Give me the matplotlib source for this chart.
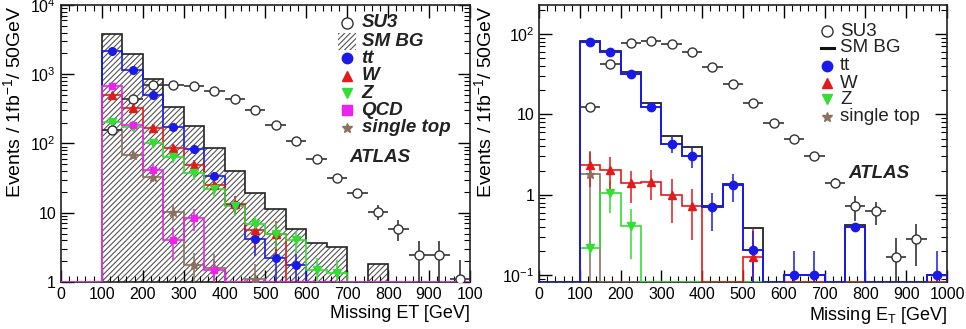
import matplotlib
matplotlib.use("Agg")
import matplotlib.pyplot as plt
import numpy as np
from matplotlib.ticker import MultipleLocator, LogLocator, NullFormatter
from matplotlib.patches import Rectangle

plt.rcParams['font.family'] = ['Liberation Sans', 'DejaVu Sans']
plt.rcParams['hatch.linewidth'] = 0.8
plt.rcParams['mathtext.fontset'] = 'custom'
plt.rcParams['mathtext.rm'] = 'Liberation Sans'

# 20 bins of 50 GeV from 0 to 1000
edges = np.arange(0, 1050, 50)
centers = edges[:-1] + 25

# ---- left panel (Missing ET, log 1..1e4) ----
sm_bg_l = [0, 0, 3770, 1940, 850, 340, 178, 85, 40, 19, 11.5, 5.9, 3.6, 3.2, 0, 1.84, 0, 0, 0, 0]
tt_l = [0, 0, 2180, 1170, 500, 175, 83, 34, 13, 4.2, 2.25, 1.78, 0, 0, 0, 0, 0, 0, 0, 0]
tt_err_l = [0, 0, 60, 40, 25, 14, 9, 5, 3, 1.8, 1.3, 0.8, 0, 0, 0, 0, 0, 0, 0, 0]
w_l = [0, 0, 500, 330, 170, 85, 49, 25, 13.3, 5.6, 5.0, 0, 0, 0, 0, 0, 0, 0, 0, 0]
w_err_l = [0, 0, 40, 30, 20, 13, 9, 6, 4, 2.5, 2.5, 0, 0, 0, 0, 0, 0, 0, 0, 0]
z_l = [0, 0, 205, 175, 100, 64, 38, 22, 12.4, 6.8, 5.0, 4.0, 1.5, 1.35, 0, 0, 0, 0, 0, 0]
z_err_l = [0, 0, 25, 22, 15, 11, 8, 5, 3.5, 2.3, 2.0, 1.5, 0.7, 0.7, 0, 0, 0, 0, 0, 0]
qcd_l = [0, 0, 670, 184, 41, 4.1, 8.5, 1.5, 0, 0, 0, 0, 0, 0, 0, 0, 0, 0, 0, 0]
qcd_err_l = [0, 0, 60, 30, 12, 2.0, 3.0, 0.5, 0, 0, 0, 0, 0, 0, 0, 0, 0, 0, 0, 0]
st_l = [0, 0, 155, 68, 33, 10.3, 1.74, 1.6, 0, 1.1, 0, 0, 0, 0, 0, 0, 0, 0, 0, 0]
st_err_l = [0, 0, 12, 8, 5, 3, 0.9, 0.9, 0, 0.7, 0, 0, 0, 0, 0, 0, 0, 0, 0, 0]
su3_l = [0, 0, 155, 437, 700, 700, 680, 580, 440, 305, 184, 108, 59, 32, 19.4, 10.3, 5.9, 2.43, 2.43, 1.1]
su3_err_l = [0, 0, 8, 14, 18, 18, 18, 17, 15, 12, 9, 7, 5, 3.5, 2.8, 2.5, 2.0, 1.5, 1.5, 0.95]

# ---- right panel (Missing E_T, log 0.1..1e2) ----
sm_bg_r = [0, 0, 82, 62, 34, 14, 5.4, 3.87, 0.72, 1.35, 0.38, 0, 0.1, 0.1, 0, 0.42, 0, 0, 0, 0.1]
tt_r = [0, 0, 79, 60, 32, 12.5, 4.3, 3.04, 0.70, 1.31, 0.205, 0, 0.1, 0.1, 0, 0.40, 0, 0, 0, 0.1]
tt_err_r = [0, 0, 3, 2.5, 2, 1.2, 1.0, 0.9, 0.35, 0.5, 0.15, 0, 0.1, 0.1, 0, 0, 0, 0, 0, 0.1]
w_r = [0, 0, 2.35, 2.05, 1.4, 1.45, 1.0, 0.72, 0, 0, 0.17, 0, 0, 0, 0, 0, 0, 0, 0, 0]
w_err_r = [0, 0, 1.1, 0.9, 0.6, 0.6, 0.55, 0.45, 0, 0, 0.2, 0, 0, 0, 0, 0, 0, 0, 0, 0]
z_r = [0, 0, 0.218, 1.05, 0.41, 0, 0, 0, 0, 0, 0, 0, 0, 0, 0, 0, 0, 0, 0, 0]
z_err_r = [0, 0, 0.05, 0.45, 0.25, 0, 0, 0, 0, 0, 0, 0, 0, 0, 0, 0, 0, 0, 0, 0]
st_r = [0, 0, 1.8, 0, 0, 0, 0, 0, 0, 0, 0, 0, 0, 0, 0, 0, 0, 0, 0, 0]
st_err_r = [0, 0, 1.75, 0, 0, 0, 0, 0, 0, 0, 0, 0, 0, 0, 0, 0, 0, 0, 0, 0]
su3_r = [0, 0, 12.2, 42, 77, 83, 76, 60, 39, 24, 14, 7.7, 4.9, 3.0, 1.4, 0.72, 0.62, 0.166, 0.28, 0]
su3_err_r = [0, 0, 0.6, 1.2, 1.6, 1.7, 1.6, 1.4, 1.1, 0.9, 0.7, 0.5, 0.4, 0.3, 0.2, 0.25, 0.2, 0.12, 0.15, 0]

BLUE = '#1a1ae6'
RED = '#e31a1a'
GREEN = '#33dd33'
MAGENTA = '#ee22ee'
BROWN = '#8c7060'
GREY = '#333333'


def hist(ax, vals, color, lw=1.2, zorder=3):
    v = np.clip(np.asarray(vals, float), ax.get_ylim()[0], None)
    ax.stairs(v, edges, baseline=ax.get_ylim()[0], color=color, lw=lw, zorder=zorder)


def points(ax, vals, errs, color, marker, ms=5.5, zorder=5):
    v = np.asarray(vals, float)
    e = np.asarray(errs, float)
    m = v > 0
    lo = np.minimum(e[m], v[m] * 0.999)
    ax.errorbar(centers[m], v[m], yerr=[lo, e[m]], fmt=marker, color=color,
                ms=ms, elinewidth=1.1, capsize=0, zorder=zorder, mec=color)


def su3(ax, vals, errs):
    v = np.asarray(vals, float)
    e = np.asarray(errs, float)
    m = v > 0
    lo = np.minimum(e[m], v[m] * 0.999)
    ax.errorbar(centers[m], v[m], xerr=25, yerr=[lo, e[m]], fmt='o', color=GREY,
                mfc='white', mec=GREY, ms=6.5, elinewidth=1.2, capsize=0, zorder=6)


def style(ax):
    ax.set_xlim(0, 1000)
    ax.xaxis.set_major_locator(MultipleLocator(100))
    ax.xaxis.set_minor_locator(MultipleLocator(20))
    ax.yaxis.set_minor_locator(LogLocator(base=10, subs=np.arange(2, 10)))
    ax.yaxis.set_minor_formatter(NullFormatter())
    ax.tick_params(which='both', direction='in', top=True, right=True, labelsize=11.5)
    ax.tick_params(which='major', length=9, width=1)
    ax.tick_params(which='minor', length=4.5, width=0.8)
    for s in ax.spines.values():
        s.set_linewidth(1.2)
        s.set_color('#222222')


fig = plt.figure(figsize=(9.66, 3.29), dpi=100)
axl = fig.add_axes([0.0631, 0.1429, 0.4234, 0.842])
axr = fig.add_axes([0.558, 0.1429, 0.4224, 0.842])

# ---------------- left ----------------
axl.set_yscale('log')
axl.set_ylim(1, 1e4)
style(axl)
bg = np.clip(np.asarray(sm_bg_l, float), 1, None)
axl.stairs(bg, edges, baseline=1, fill=True, facecolor='white', edgecolor='#555555',
           hatch='//////', lw=0, zorder=1)
axl.stairs(bg, edges, baseline=1, color='#222222', lw=1.2, zorder=2)
hist(axl, st_l, BROWN)
hist(axl, tt_l, BLUE)
hist(axl, w_l, RED)
hist(axl, z_l, GREEN)
hist(axl, qcd_l, MAGENTA)
points(axl, st_l, st_err_l, BROWN, '*', ms=6.5)
points(axl, tt_l, tt_err_l, BLUE, 'o')
points(axl, w_l, w_err_l, RED, '^')
points(axl, z_l, z_err_l, GREEN, 'v')
points(axl, qcd_l, qcd_err_l, MAGENTA, 's', ms=5)
su3(axl, su3_l, su3_err_l)

axl.set_xticks(range(0, 1001, 100))
axl.set_xticklabels(['0', '100', '200', '300', '400', '500', '600', '700', '800', '900', '100'])
axl.set_yticks([1, 10, 100, 1000, 10000])
axl.set_yticklabels(['1', '10', '$10^2$', '$10^3$', '$10^4$'])
axl.set_xlabel('Missing ET [GeV]', loc='right', fontsize=13, labelpad=2)
axl.set_ylabel('Events / 1fb$^{-1}$/ 50GeV', loc='top', fontsize=14, labelpad=4)

# legend left (bold italic)
lx, tx = 0.70, 0.735
rows = [0.935, 0.868, 0.808, 0.744, 0.682, 0.620, 0.556]
kw = dict(transform=axl.transAxes, fontsize=13.5, fontweight='bold', style='italic',
          va='center', ha='left', color='#222222')
axl.plot(lx, rows[0], 'o', mfc='white', mec=GREY, ms=8, transform=axl.transAxes, clip_on=False)
axl.add_patch(Rectangle((lx - 0.022, rows[1] - 0.03), 0.044, 0.06, transform=axl.transAxes,
                        facecolor='white', edgecolor='#555555', hatch='//////', lw=0))
axl.plot(lx, rows[2], 'o', color=BLUE, ms=7.5, transform=axl.transAxes)
axl.plot(lx, rows[3], '^', color=RED, ms=7.5, transform=axl.transAxes)
axl.plot(lx, rows[4], 'v', color=GREEN, ms=7.5, transform=axl.transAxes)
axl.plot(lx, rows[5], 's', color=MAGENTA, ms=7, transform=axl.transAxes)
axl.plot(lx, rows[6], '*', color=BROWN, ms=7.5, transform=axl.transAxes)
for y, t in zip(rows, ['SU3', 'SM BG', 'tt', 'W', 'Z', 'QCD', 'single top']):
    axl.text(tx, y, t, **kw)
axl.text(0.705, 0.451, 'ATLAS', **kw)

# ---------------- right ----------------
axr.set_yscale('log')
axr.set_ylim(0.082, 230)
style(axr)
hist(axr, sm_bg_r, '#222222', lw=1.3, zorder=2)
hist(axr, st_r, BROWN)
hist(axr, z_r, GREEN)
hist(axr, w_r, RED)
hist(axr, tt_r, BLUE, lw=1.4)
points(axr, st_r, st_err_r, BROWN, '*', ms=6.5)
points(axr, z_r, z_err_r, GREEN, 'v')
points(axr, w_r, w_err_r, RED, '^')
points(axr, tt_r, tt_err_r, BLUE, 'o', ms=6)
su3(axr, su3_r, su3_err_r)

axr.set_xticks(range(0, 1001, 100))
axr.set_yticks([0.1, 1, 10, 100])
axr.set_yticklabels(['$10^{-1}$', '1', '10', '$10^2$'])
axr.set_xlabel('Missing E$_\\mathregular{T}$ [GeV]', loc='right', fontsize=13, labelpad=2)
axr.set_ylabel('Events / 1fb$^{-1}$/ 50GeV', loc='top', fontsize=14, labelpad=4)

lx, tx = 0.706, 0.738
rows = [0.906, 0.845, 0.780, 0.718, 0.660, 0.596]
kw = dict(transform=axr.transAxes, fontsize=13.5, va='center', ha='left', color='#222222')
axr.plot(lx, rows[0], 'o', mfc='white', mec=GREY, ms=8, transform=axr.transAxes)
axr.plot([lx - 0.016, lx + 0.016], [rows[1], rows[1]], color='#111111', lw=2.2,
         transform=axr.transAxes)
axr.plot(lx, rows[2], 'o', color=BLUE, ms=7.5, transform=axr.transAxes)
axr.plot(lx, rows[3], '^', color=RED, ms=7.5, transform=axr.transAxes)
axr.plot(lx, rows[4], 'v', color=GREEN, ms=7.5, transform=axr.transAxes)
axr.plot(lx, rows[5], '*', color=BROWN, ms=7.5, transform=axr.transAxes)
for y, t in zip(rows, ['SU3', 'SM BG', 'tt', 'W', 'Z', 'single top']):
    axr.text(tx, y, t, **kw)
axr.text(0.757, 0.393, 'ATLAS', fontweight='bold', style='italic', **kw)

fig.savefig('out.png', dpi=100)
